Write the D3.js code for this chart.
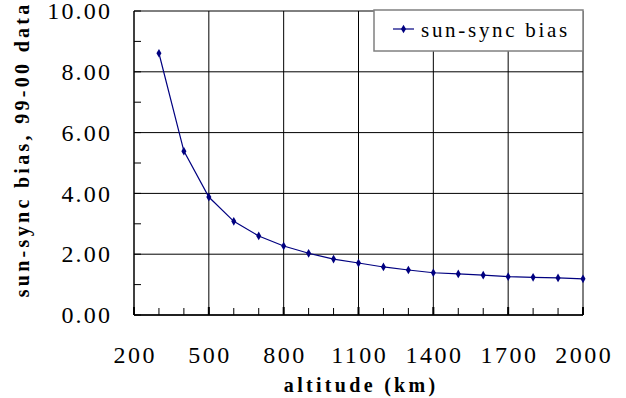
<!DOCTYPE html>
<html>
<head>
<meta charset="utf-8">
<script src="https://cdn.jsdelivr.net/npm/d3@7"></script>
<style>
  svg text { font-family: "Times New Roman", "Liberation Serif", Times !important; }
</style>
</head>
<body style="margin:0">
<div id="grafico"></div>
<script>
// dados
const altitudes = [300, 400, 500, 600, 700, 800, 900, 1000, 1100, 1200, 1300, 1400, 1500, 1600, 1700, 1800, 1900, 2000]
const vies = [8.61, 5.39, 3.88, 3.08, 2.60, 2.27, 2.03, 1.84, 1.71, 1.58, 1.48, 1.39, 1.35, 1.31, 1.26, 1.24, 1.22, 1.19]
const ticks_x = [200, 500, 800, 1100, 1400, 1700, 2000]
const ticks_y = [0, 2, 4, 6, 8, 10]
const nome_serie = "sun-sync bias"

// espaçamento entre letras feito com dx
function espacos(texto, s) {
    return Array.from(String(texto)).map((c, i) => i === 0 ? 0 : s).join(' ')
}

// área do gráfico
const margin = { top: 11, right: 43, bottom: 83, left: 134 }
const width = 626 - margin.left - margin.right
const height = 398 - margin.top - margin.bottom

const svg = d3.select('#grafico').append('svg')
    .attr('width', 626)
    .attr('height', 398)

// escreve um texto com a fonte serifada
function texto(pai, conteudo, tamanho, peso) {
    return pai.append('text')
        .attr('font-family', 'Times New Roman')
        .style('font-family', d => '"Times New Roman"')
        .style('font-size', tamanho + 'px')
        .style('font-weight', peso || 'normal')
        .text(conteudo)
}

const g = svg.append('g')
    .attr('transform', `translate(${margin.left}, ${margin.top})`)

const x = d3.scaleLinear().domain([200, 2000]).range([0, width])
const y = d3.scaleLinear().domain([0, 10]).range([height, 0])

// grade
g.append('g').selectAll('line').data(ticks_y)
    .join('line')
    .attr('x1', 0).attr('x2', width)
    .attr('y1', d => y(d)).attr('y2', d => y(d))
    .attr('stroke', '#000').attr('stroke-width', 1)

g.append('g').selectAll('line').data(ticks_x.slice(1))
    .join('line')
    .attr('x1', d => x(d)).attr('x2', d => x(d))
    .attr('y1', 0).attr('y2', height)
    .attr('stroke', '#000').attr('stroke-width', 1)

// marcas menores (para dentro)
const menores_x = d3.range(200, 2001, 100)
const menores_y = d3.range(0, 10.01, 1)

g.append('g').selectAll('line').data(menores_x)
    .join('line')
    .attr('x1', d => x(d)).attr('x2', d => x(d))
    .attr('y1', height).attr('y2', d => height - ((d - 200) % 300 === 0 ? 8 : 7))
    .attr('stroke', '#000').attr('stroke-width', d => (d - 200) % 300 === 0 ? 2 : 1)

g.append('g').selectAll('line').data(menores_y)
    .join('line')
    .attr('x1', 0).attr('x2', 7)
    .attr('y1', d => y(d)).attr('y2', d => y(d))
    .attr('stroke', '#000').attr('stroke-width', 1)

// eixos
g.append('line').attr('x1', 0).attr('x2', 0).attr('y1', 0).attr('y2', height)
    .attr('stroke', '#000').attr('stroke-width', 1.5)
g.append('line').attr('x1', 0).attr('x2', width).attr('y1', height).attr('y2', height)
    .attr('stroke', '#000').attr('stroke-width', 1.5)

// rótulos dos eixos
ticks_y.forEach(v => {
    const s = v.toFixed(2)
    texto(g, s, 24)
        .attr('x', -24)
        .attr('y', y(v))
        .attr('dy', '0.34em')
        .attr('dx', espacos(s, 2.2))
        .attr('text-anchor', 'end')
})

ticks_x.forEach(v => {
    texto(g, String(v), 24)
        .attr('x', x(v))
        .attr('y', height + 48)
        .attr('dx', espacos(v, 2.5))
        .attr('text-anchor', 'middle')
})

// títulos
const titulo_x = 'altitude (km)'
const titulo_y = 'sun-sync bias, 99-00 data'

texto(g, titulo_x, 20, 'bold')
    .attr('x', width / 2 + 1)
    .attr('y', height + 77)
    .attr('dx', espacos(titulo_x, 3.3))
    .attr('text-anchor', 'middle')

texto(svg, titulo_y, 20, 'bold')
    .attr('transform', 'rotate(-90)')
    .attr('x', -151)
    .attr('y', 29)
    .attr('dx', espacos(titulo_y, 3.3))
    .attr('text-anchor', 'middle')

// linha
const cor = '#000080'
const linha = d3.line()
    .x((d, i) => x(altitudes[i]))
    .y(d => y(d))

g.append('path')
    .datum(vies)
    .attr('d', linha)
    .attr('fill', 'none')
    .attr('stroke', cor)
    .attr('stroke-width', 1.2)

const losango = d3.symbol().type(d3.symbolDiamond).size(22)

g.append('g').selectAll('path').data(vies)
    .join('path')
    .attr('d', losango)
    .attr('transform', (d, i) => `translate(${x(altitudes[i])}, ${y(d)})`)
    .attr('fill', cor)

// legenda
const leg = svg.append('g').attr('transform', 'translate(374, 10)')
leg.append('rect')
    .attr('width', 209).attr('height', 41)
    .attr('fill', '#fff')
    .attr('stroke', '#808080').attr('stroke-width', 1.5)
leg.append('line')
    .attr('x1', 19).attr('x2', 40).attr('y1', 19).attr('y2', 19)
    .attr('stroke', cor).attr('stroke-width', 1.2)
leg.append('path')
    .attr('d', losango)
    .attr('transform', 'translate(29.5, 19)')
    .attr('fill', cor)
texto(leg, nome_serie, 21)
    .attr('x', 47).attr('y', 27)
    .attr('dx', espacos(nome_serie, 2.7))
</script>
</body>
</html>
